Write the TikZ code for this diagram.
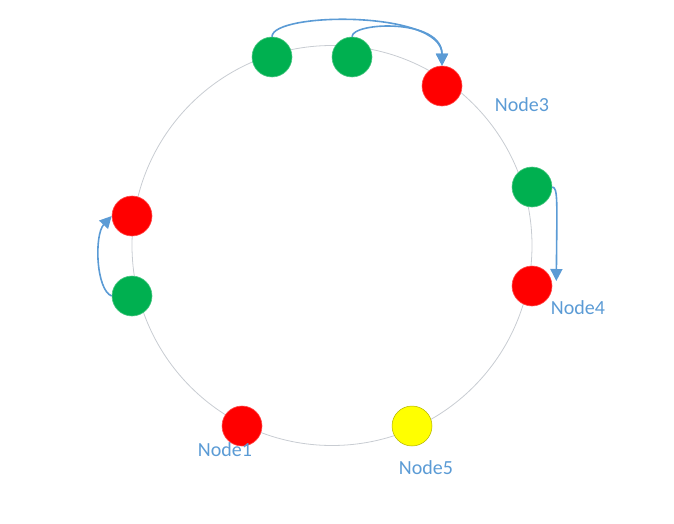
\documentclass[tikz,border=0pt]{standalone}
\usepackage{fontspec}
\setmainfont{Carlito}
\usetikzlibrary{arrows.meta}
\definecolor{ringgray}{RGB}{200,204,210}
\definecolor{vgreen}{RGB}{0,176,80}
\definecolor{vred}{RGB}{255,0,0}
\definecolor{vyellow}{RGB}{255,255,0}
\definecolor{flowblue}{RGB}{91,155,213}
\tikzset{
  vnode/.style={circle,minimum size=40pt,inner sep=0pt},
  vgood/.style={vnode,fill=vgreen,draw=vgreen!70!white,line width=0.6pt},
  vbad/.style={vnode,fill=vred,draw=vred!70!white,line width=0.6pt},
  vnew/.style={vnode,fill=vyellow,draw=vyellow!70!black,line width=0.5pt},
  tag/.style={text=flowblue,font=\fontsize{20}{24}\selectfont},
  flow/.style={draw=flowblue,line width=1.6pt,-{Triangle[length=12pt,width=12pt]}}
}
\begin{document}
\begin{tikzpicture}[x=1pt,y=-1pt]
\useasboundingbox (0,0) rectangle (674,524);

% Hash ring
\draw[ringgray,line width=0.8pt] (332,245.5) circle (200pt);

% Virtual nodes on the ring
\node[vgood] (g1) at (272,57) {};
\node[vgood] (g2) at (352,57) {};
\node[vbad] (r3) at (442,86) {};
\node[vgood] (g4) at (532,187) {};
\node[vbad] (r4) at (532,286) {};
\node[vnew] (y5) at (412,426) {};
\node[vbad] (r1) at (242,426) {};
\node[vgood] (g6) at (132,296) {};
\node[vbad] (r2) at (132,216) {};

% Labels
\node[tag] (n3) at (522,105) {Node3};
\node[tag] (n4) at (578,308) {Node4};
\node[tag] (n1) at (225,450) {Node1};
\node[tag] (n5) at (426,468) {Node5};

% Remapped keys
\draw[flow] (g1.north) .. controls (272,12) and (442,10) .. (r3.north);
\draw[flow] (g2.north) .. controls (352,22) and (442,18) .. (r3.north);
\draw[flow] (g4.east) .. controls (558,188) and (557,200) .. ([shift={(4pt,5pt)}]r4.east);
\draw[flow] (g6.west) .. controls (96,290) and (94,235) .. (r2.west);

\end{tikzpicture}
\end{document}
